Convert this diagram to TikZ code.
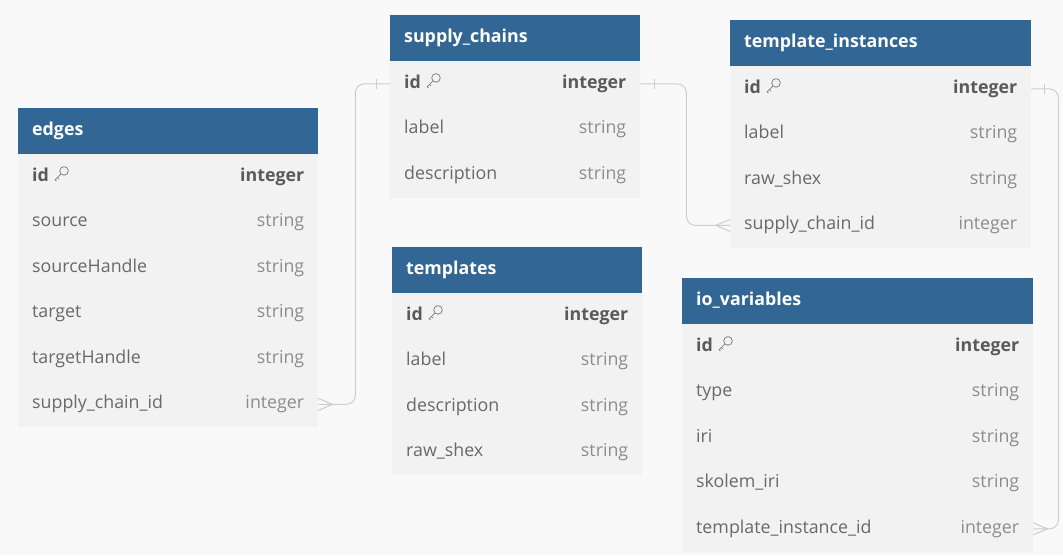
\documentclass[tikz,border=0pt]{standalone}
\usepackage{fontspec}
\setmainfont{Open Sans}
\usepackage{tikz}
\usetikzlibrary{matrix}
\definecolor{bg}{RGB}{249,249,249}
\definecolor{headblue}{RGB}{50,102,148}
\definecolor{rowgray}{RGB}{242,242,242}
\definecolor{fieldgray}{RGB}{105,105,105}
\definecolor{typegray}{RGB}{140,140,140}
\definecolor{idgray}{RGB}{90,90,90}
\definecolor{keygray}{RGB}{125,125,125}
\definecolor{linkgray}{RGB}{205,205,205}
\newcommand{\keyicon}{\tikz[x=1pt, y=1pt, baseline=-1pt, line width=0.75pt, draw=keygray]{
	\draw (9.2,9.2) circle (4.3);
	\draw (6.1,6.1) -- (0.4,0.4) -- (1.6,-0.8);
	\draw (2.6,2.6) -- (4.2,1.0);}}
\tikzset{
	tblhead/.style={
		rectangle, fill=headblue, text=white,
		font=\fontsize{17.8}{21}\selectfont\bfseries,
		inner xsep=14pt, inner ysep=0pt,
		minimum height=45.5pt, text height=13pt, text depth=4.5pt,
		align=left, text width=#1
	},
	tbl/.style={
		matrix of nodes,
		inner sep=0pt,
		row sep=0pt,
		column sep=0pt,
		nodes={rectangle, fill=rowgray, inner xsep=14pt, inner ysep=0pt,
			minimum height=45.5pt, text height=13pt, text depth=4.5pt,
			font=\fontsize{17.8}{21}\selectfont},
		column 1/.style={nodes={text width=#1, align=left, text=fieldgray}},
		column 2/.style={nodes={text width=82pt, align=right, text=typegray}},
		row 1/.style={nodes={font=\fontsize{17.8}{21}\selectfont\bfseries, text=idgray}}
	},
	relline/.style={draw=linkgray, line width=1pt, rounded corners=9pt},
	crowfoot/.style={draw=linkgray, line width=1pt}
}
\begin{document}
\begin{tikzpicture}[x=1pt, y=-1pt]
	\useasboundingbox (0,0) rectangle (1063,555);
	\fill[bg] (0,0) rectangle (1063,555);

	% the tables
	\node (edges-h) [tblhead=272pt, anchor=north west] at (18,108) {edges};
	\matrix (edges) [tbl=162pt, anchor=north west] at (edges-h.south west)
	{
		id \keyicon & integer \\
		source & string \\
		sourceHandle & string \\
		target & string \\
		targetHandle & string \\
		supply\_chain\_id & integer \\
	};

	\node (supply_chains-h) [tblhead=222pt, anchor=north west] at (390,15) {supply\_chains};
	\matrix (supply_chains) [tbl=112pt, anchor=north west] at (supply_chains-h.south west)
	{
		id \keyicon & integer \\
		label & string \\
		description & string \\
	};

	\node (templates-h) [tblhead=222pt, anchor=north west] at (392,247) {templates};
	\matrix (templates) [tbl=112pt, anchor=north west] at (templates-h.south west)
	{
		id \keyicon & integer \\
		label & string \\
		description & string \\
		raw\_shex & string \\
	};

	\node (template_instances-h) [tblhead=273pt, anchor=north west] at (730,20) {template\_instances};
	\matrix (template_instances) [tbl=163pt, anchor=north west] at (template_instances-h.south west)
	{
		id \keyicon & integer \\
		label & string \\
		raw\_shex & string \\
		supply\_chain\_id & integer \\
	};

	\node (io_variables-h) [tblhead=323pt, anchor=north west] at (682,278) {io\_variables};
	\matrix (io_variables) [tbl=213pt, anchor=north west] at (io_variables-h.south west)
	{
		id \keyicon & integer \\
		type & string \\
		iri & string \\
		skolem\_iri & string \\
		template\_instance\_id & integer \\
	};

	% the relations
	\draw[relline] (edges-6-2.east) -- ++(37,0) |- (supply_chains-1-1.west);
	\draw[relline] (supply_chains-1-2.east) -- ++(46,0) |- (template_instances-4-1.west);
	\draw[relline] (template_instances-1-2.east) -- ++(27,0) |- (io_variables-5-2.east);

	% the ends
	\draw[crowfoot] (edges-6-2.east) ++(0,-6) -- ++(14,6) -- ++(-14,6);
	\draw[crowfoot] (supply_chains-1-1.west) ++(-14,-5) -- ++(0,10);
	\draw[crowfoot] (supply_chains-1-2.east) ++(14,-5) -- ++(0,10);
	\draw[crowfoot] (template_instances-4-1.west) ++(0,-6) -- ++(-14,6) -- ++(14,6);
	\draw[crowfoot] (template_instances-1-2.east) ++(13,-5) -- ++(0,10);
	\draw[crowfoot] (io_variables-5-2.east) ++(0,-6) -- ++(14,6) -- ++(-14,6);
\end{tikzpicture}
\end{document}
